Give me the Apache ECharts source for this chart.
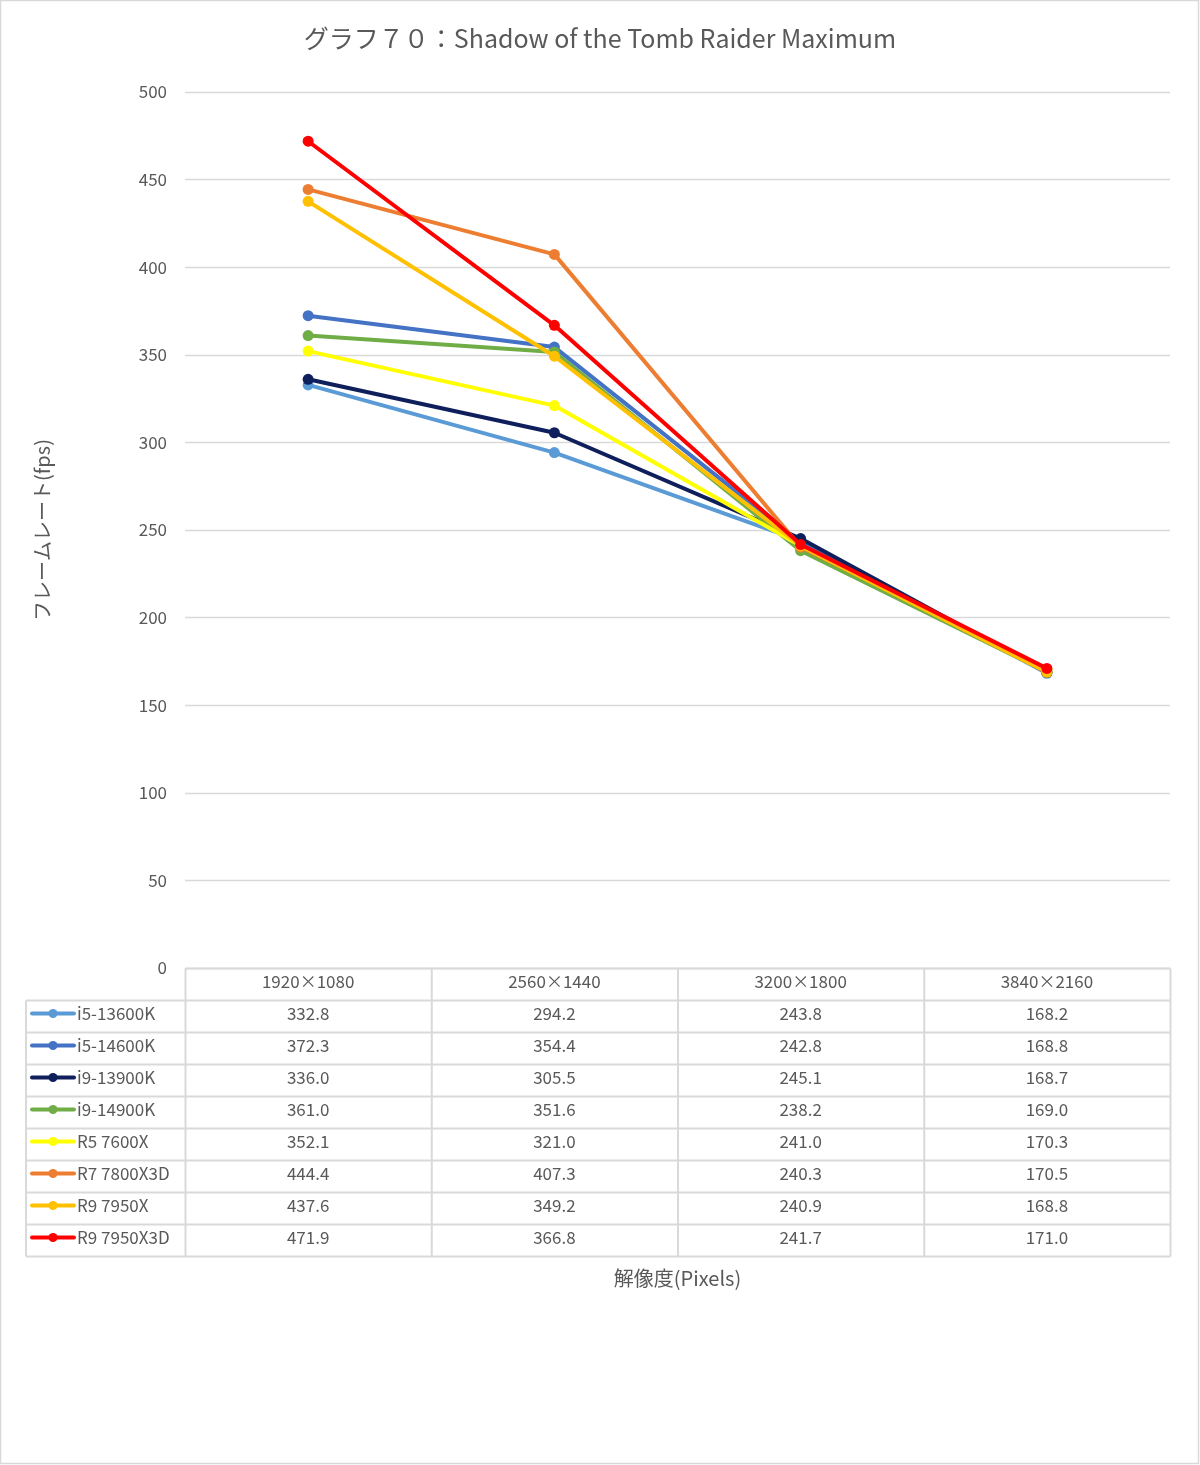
<!DOCTYPE html>
<html><head><meta charset="utf-8">
<script src="https://cdn.jsdelivr.net/npm/echarts@6/dist/echarts.min.js"></script>
<style>html,body{margin:0;padding:0;background:#fff}#c{width:1200px;height:1465px}</style>
</head><body><div id="c"></div>
<script>
const categories = ['1920×1080','2560×1440','3200×1800','3840×2160'];
const seriesNames = ['i5-13600K','i5-14600K','i9-13900K','i9-14900K','R5 7600X','R7 7800X3D','R9 7950X','R9 7950X3D'];
const colors = ['#5B9BD5','#4472C4','#0E1F5B','#70AD47','#FFFF00','#ED7D31','#FFC000','#FF0000'];
const i5_13600K = [332.8, 294.2, 243.8, 168.2];
const i5_14600K = [372.3, 354.4, 242.8, 168.8];
const i9_13900K = [336.0, 305.5, 245.1, 168.7];
const i9_14900K = [361.0, 351.6, 238.2, 169.0];
const r5_7600X = [352.1, 321.0, 241.0, 170.3];
const r7_7800X3D = [444.4, 407.3, 240.3, 170.5];
const r9_7950X = [437.6, 349.2, 240.9, 168.8];
const r9_7950X3D = [471.9, 366.8, 241.7, 171.0];
const allData = [i5_13600K, i5_14600K, i9_13900K, i9_14900K, r5_7600X, r7_7800X3D, r9_7950X, r9_7950X3D];
const yTicks = {min: 0, max: 500, interval: 50};

const FONT = '"Noto Sans CJK JP", "Noto Sans", sans-serif';
const TXT = '#595959';
const LINE = '#d9d9d9';
const chart = echarts.init(document.getElementById('c'));

const grid = {left: 185, right: 30, top: 92, bottom: 497};
const rowH = 32;
const legendLeft = 26;

chart.setOption({
  animation: false,
  backgroundColor: '#fff',
  textStyle: {fontFamily: FONT},
  title: {text: 'グラフ７０：Shadow of the Tomb Raider Maximum', left: 'center', top: 21,
    textStyle: {fontFamily: FONT, fontSize: 25, fontWeight: 'normal', color: TXT}},
  grid: grid,
  xAxis: {type: 'category', data: categories, boundaryGap: true,
    axisLine: {show: false}, axisTick: {show: false},
    axisLabel: {color: TXT, fontSize: 17, margin: 5, fontFamily: FONT},
    name: '解像度(Pixels)', nameLocation: 'middle', nameGap: 300,
    nameTextStyle: {color: TXT, fontSize: 20, fontFamily: FONT}},
  yAxis: {type: 'value', min: yTicks.min, max: yTicks.max, interval: yTicks.interval,
    axisLine: {show: false}, axisTick: {show: false},
    axisLabel: {color: TXT, fontSize: 17, margin: 18, fontFamily: FONT},
    splitLine: {lineStyle: {color: LINE, width: 1.3}},
    name: 'フレームレート(fps)', nameLocation: 'middle', nameGap: 133, nameRotate: 90,
    nameTextStyle: {color: TXT, fontSize: 20, fontFamily: FONT}},
  series: seriesNames.map((n, i) => ({
    name: n, type: 'line', data: allData[i], color: colors[i],
    lineStyle: {width: 4, color: colors[i]}, symbol: 'circle', symbolSize: 11,
    itemStyle: {color: colors[i]}, z: 2 + i
  }))
});

// data table built from axis geometry
function buildTable() {
  const g = [];
  const y0 = chart.convertToPixel({yAxisIndex: 0}, 0); // y pixel of zero
  const top = Math.round(y0) + 0.5;
  const left = grid.left + 0.5;
  const right = 1200 - grid.right + 0.5;
  const n = categories.length;
  const step = (right - left) / n;
  const bottom = top + rowH * (seriesNames.length + 1);
  g.push({type: 'line', shape: {x1: left, y1: top, x2: right, y2: top}, style: {stroke: LINE, lineWidth: 2}});
  for (let r = 1; r <= seriesNames.length + 1; r++) {
    const y = top + r * rowH;
    g.push({type: 'line', shape: {x1: legendLeft, y1: y, x2: right, y2: y}, style: {stroke: LINE, lineWidth: 2}});
  }
  for (let c = 0; c <= n; c++) {
    const x = left + c * step;
    g.push({type: 'line', shape: {x1: x, y1: top, x2: x, y2: bottom}, style: {stroke: LINE, lineWidth: 2}});
  }
  g.push({type: 'line', shape: {x1: legendLeft, y1: top + rowH, x2: legendLeft, y2: bottom}, style: {stroke: LINE, lineWidth: 2}});
  seriesNames.forEach((name, i) => {
    const cy = top + rowH * (i + 1) + rowH / 2 - 3;
    g.push({type: 'line', shape: {x1: legendLeft + 6, y1: cy, x2: legendLeft + 48, y2: cy},
      style: {stroke: colors[i], lineWidth: 4, lineCap: 'round'}, z: 10});
    g.push({type: 'circle', shape: {cx: legendLeft + 27, cy: cy, r: 4.5}, style: {fill: colors[i]}, z: 11});
    g.push({type: 'text', x: legendLeft + 51, y: cy, z: 10,
      style: {text: name, fill: TXT, font: '17px ' + FONT, textVerticalAlign: 'middle', textAlign: 'left'}});
    allData[i].forEach((v, j) => {
      const cx = chart.convertToPixel({xAxisIndex: 0}, j);
      g.push({type: 'text', x: cx, y: cy, z: 10,
        style: {text: v.toFixed(1), fill: TXT, font: '17px ' + FONT, textVerticalAlign: 'middle', textAlign: 'center'}});
    });
  });
  g.push({type: 'rect', shape: {x: 0.5, y: 0.5, width: 1198, height: 1463}, style: {fill: null, stroke: LINE, lineWidth: 1.5}});
  chart.setOption({graphic: g});
}
buildTable();
</script></body></html>
